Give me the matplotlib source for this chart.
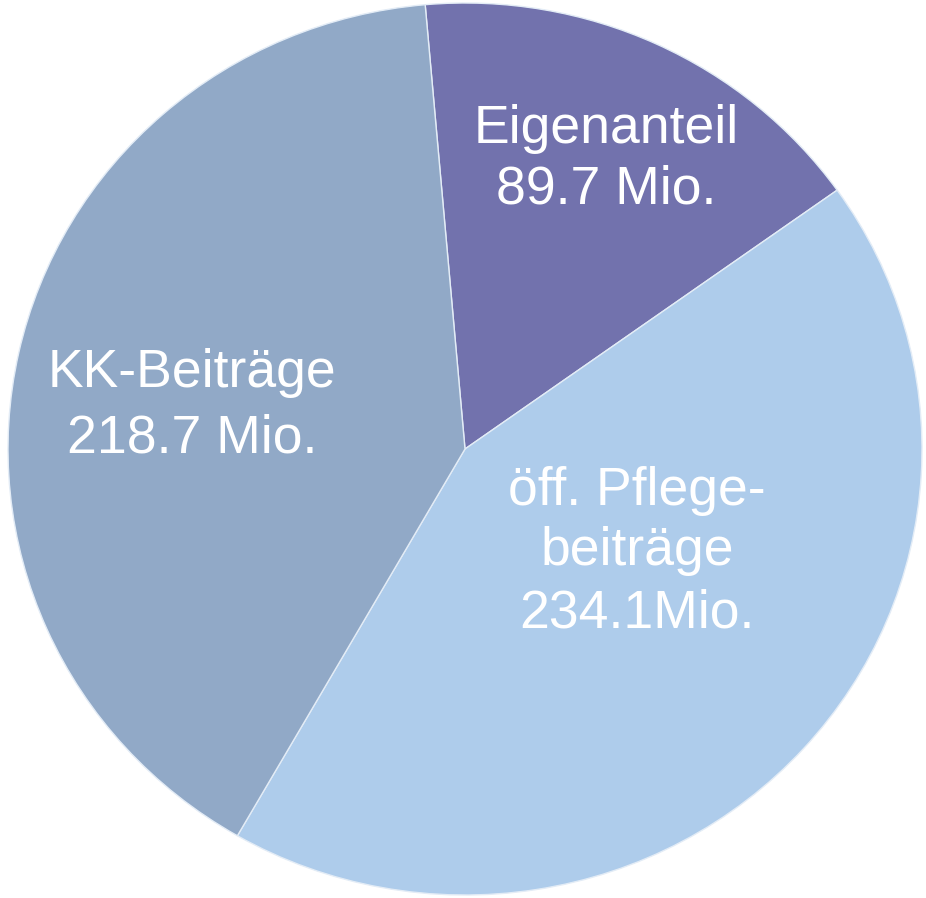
import matplotlib
matplotlib.use("Agg")
import matplotlib.pyplot as plt

# Finanzierungsanteile (Mio.)
labels = ["Eigenanteil\n89.7 Mio.", "öff. Pflege-\nbeiträge\n234.1Mio.", "KK-Beiträge\n218.7 Mio."]
values = [89.7, 234.1, 218.7]
colors = ["#7272AD", "#AECCEB", "#91A9C7"]

plt.rcParams['font.family'] = ['Liberation Sans', 'DejaVu Sans']

W, H = 926, 898
fig = plt.figure(figsize=(W / 100, H / 100), dpi=100)
ax = fig.add_axes([8 / W, 3 / H, 914 / W, 892 / H])

wedges, _ = ax.pie(values, colors=colors, startangle=95, counterclock=False,
                   radius=1.0, wedgeprops=dict(edgecolor="#E3ECF6", linewidth=1.0))
ax.set_aspect('auto')
ax.set_xlim(-1, 1)
ax.set_ylim(-1, 1)
ax.axis('off')

# label anchor: x centre and baseline of each line, in pixels from top-left
label_x = [606, 637, 192]
label_baselines = [[143, 203], [505, 565, 627], [387, 452]]
for txt, x, bls in zip(labels, label_x, label_baselines):
    for line, b in zip(txt.split("\n"), bls):
        fig.text(x / W, 1 - b / H, line, ha='center', va='baseline',
                 color='white', fontsize=38.5)

fig.savefig("out.png", dpi=100, facecolor="white")
